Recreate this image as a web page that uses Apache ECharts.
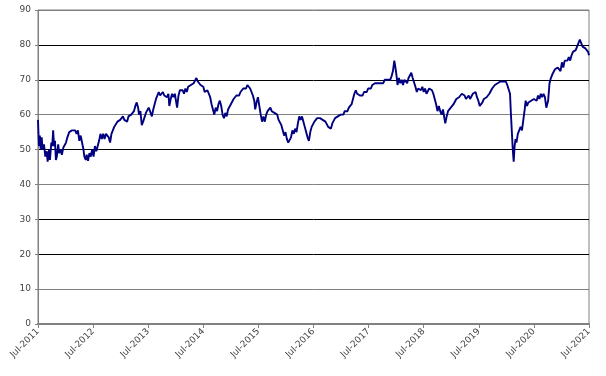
<!DOCTYPE html>
<html>
<head>
<meta charset="utf-8">
<script src="https://cdn.jsdelivr.net/npm/echarts@6/dist/echarts.min.js"></script>
<style>
html,body{margin:0;padding:0;background:#fff;}
#chart{width:606px;height:376px;}
</style>
</head>
<body>
<div id="chart"></div>
<script>
// x positions: months since Jul-2011
var months = [0,0.2,0.4,0.6,0.8,1.0,1.3,1.6,1.9,2.1,2.4,2.6,2.9,3.1,3.3,3.5,3.7,3.9,4.1,4.4,4.6,4.9,5.2,5.5,5.8,6.1,6.4,6.8,7.1,7.4,7.8,8.1,8.4,8.7,9.0,9.3,9.6,9.9,10.1,10.4,10.6,10.9,11.2,11.5,11.8,12.1,12.4,12.7,13.0,13.3,13.6,13.9,14.2,14.5,14.8,15.1,15.4,15.7,16.0,16.3,16.6,16.9,17.3,17.6,17.9,18.2,18.5,18.8,19.1,19.4,19.7,20.0,20.3,20.6,20.9,21.2,21.5,21.8,22.0,22.3,22.6,22.9,23.2,23.5,23.8,24.1,24.4,24.8,25.1,25.4,25.7,26.0,26.3,26.6,26.9,27.2,27.5,27.8,28.1,28.4,28.6,28.9,29.2,29.5,29.8,30.1,30.3,30.6,30.9,31.2,31.5,31.8,32.1,32.4,32.7,33.0,33.3,33.6,33.9,34.2,34.5,34.8,35.1,35.4,35.7,36.0,36.3,36.6,36.9,37.2,37.5,37.8,38.1,38.4,38.7,39.0,39.3,39.6,39.9,40.2,40.5,40.8,41.1,41.4,41.7,42.0,42.3,42.6,42.9,43.2,43.5,43.8,44.1,44.4,44.7,45.0,45.3,45.6,45.9,46.2,46.5,46.8,47.1,47.3,47.6,47.9,48.2,48.5,48.8,49.1,49.4,49.7,50.0,50.3,50.6,50.9,51.2,51.5,51.8,52.1,52.4,52.7,53.0,53.3,53.6,53.9,54.2,54.5,54.8,55.1,55.4,55.7,56.0,56.3,56.6,56.9,57.2,57.5,57.8,58.1,58.4,58.7,59.0,59.3,59.6,59.9,60.2,60.5,60.8,61.1,61.4,61.7,62.0,62.3,62.6,62.9,63.2,63.5,63.8,64.1,64.4,64.7,65.0,65.3,65.6,65.9,66.2,66.5,66.8,67.1,67.4,67.7,68.0,68.3,68.6,68.9,69.2,69.5,69.8,70.1,70.4,70.7,71.0,71.3,71.6,71.9,72.2,72.5,72.8,73.1,73.4,73.7,74.0,74.3,74.6,74.9,75.2,75.5,75.8,76.1,76.4,76.7,77.0,77.3,77.6,77.9,78.1,78.3,78.6,78.9,79.2,79.5,79.8,80.1,80.4,80.7,81.0,81.3,81.6,81.9,82.2,82.5,82.8,83.1,83.4,83.7,84.0,84.3,84.6,84.9,85.2,85.5,85.8,86.1,86.4,86.7,87.0,87.3,87.6,87.9,88.2,88.5,88.7,89.0,89.3,89.6,89.9,90.2,90.5,90.8,91.1,91.4,91.7,92.0,92.3,92.6,92.9,93.2,93.5,93.8,94.1,94.4,94.7,95.0,95.3,95.6,95.9,96.2,96.5,96.8,97.1,97.4,97.7,98.0,98.3,98.6,98.9,99.2,99.5,99.8,100.1,100.4,100.7,101.0,101.3,101.6,101.9,102.2,102.5,102.8,103.0,103.2,103.4,103.6,103.8,104.0,104.2,104.5,104.8,105.1,105.4,105.7,106.0,106.2,106.5,106.8,107.1,107.4,107.7,108.0,108.3,108.6,108.9,109.2,109.5,109.8,110.1,110.4,110.7,110.9,111.1,111.4,111.7,112.0,112.3,112.6,112.9,113.2,113.5,113.8,114.1,114.4,114.7,115.0,115.3,115.6,115.9,116.2,116.5,116.8,117.1,117.4,117.7,118.0,118.3,118.6,118.9,119.2,119.5,119.8,120.0];

var values = [58.5,51,54,50,53.5,50,51.5,48,49.5,46.5,50,47,52,51,55.5,51,52.5,47,48,51.5,49,50,48.5,50.5,50,52,53.5,55,54.5,55.5,55,55.5,54.5,55.5,52.5,54,52,50,48,47,48.5,46.8,49,48,50,48,51,49.5,51,52.5,54.5,53,54.5,53,54.5,54,53.5,52,54.5,55.5,56.5,57,58,58,58.5,59,59.5,58.5,59,58,59.5,59,60,59.5,61,62.5,63.5,62,60,61,57,58,58.5,60.5,61,62,61,59.5,61.5,63,64.5,64,66.5,65.5,66,66.5,65.5,66,65,66,62.5,64.5,66,65,66,63.5,62,65.5,67,66.5,67,66,67.5,66.5,68,67.5,68.5,68,69,69.5,70.5,69.5,70,68.5,69,68,66.5,66,67,66,65,63,61.5,60,62,61,63,64,62.5,60,59,60.5,59.5,61.5,62,63,62.5,64.5,64,65.5,66,65.5,66.5,66,67.5,68,67.5,68.5,68,67.5,66.5,65.5,64,61.5,63.5,65,62.5,60,58,59.5,58,60,61,61.5,62,61,61.5,60.5,61,60,58.5,58,57,55.5,54,55,53,52,51.5,53.5,55.5,54.5,56,55,57.5,59.5,58.5,59.5,58,56.5,55,53.5,52.5,55,56.5,57,58,58.5,59,59.5,59,59.5,58.5,59,58,57.5,56.5,57,56,57.5,58,59,58.5,59.5,59,60,60.5,60,61,61.5,61,62,62.5,63,64.5,66,67,66,66.5,65.5,66,65.5,66.5,67,66.5,67.5,67,67.5,68.5,68,69,68.5,69,69.5,69,69.5,69,70,69.5,70,70.5,70,71,72.5,75.5,73,71,68.5,70.5,69,70,68.5,70,69.5,69,70.5,71,72,70.5,70,68,66.5,67.5,68,67,68,66.5,67.5,66,65.5,67.5,68,67,66,64.5,63,61,62.5,61,60,61.5,59,57.5,59.5,61,61.5,62,62.5,63,63.5,64.5,64,65,65.5,66,66.5,65.5,64.5,64,65.5,64.5,65,66,65.5,66.5,65,64,62.5,62,63.5,64.5,64,65,64.5,66,66.5,67.5,67,68.5,68,69,68.5,69.5,69,69.5,70,69.5,68.5,69,66,60,55,50,46.5,51,53,52,54.5,55,56.5,55.5,58.5,61.5,64,62.5,63.5,63,64,63.5,64.5,65,64,65.5,64.5,66,65,66,65,62,61.5,64,69,70.5,71.5,72,73,72.5,73.5,74,72.5,75,73.5,75.5,76,75.5,76.5,75.5,77,78,77.5,78.5,79.5,80.5,81.5,80.5,79.5,80,79,79.5,78,77];

var xTickLabels = ['Jul-2011','Jul-2012','Jul-2013','Jul-2014','Jul-2015','Jul-2016','Jul-2017','Jul-2018','Jul-2019','Jul-2020','Jul-2021'];
var yMin = 0, yMax = 90, yStep = 10;

var data = months.map(function (m, i) { return [m, values[i]]; });

var chart = echarts.init(document.getElementById('chart'), null, {renderer: 'canvas'});
var labelFont = {color: '#444', fontFamily: 'DejaVu Sans', fontSize: 9};
chart.setOption({
  animation: false,
  backgroundColor: '#fff',
  grid: {left: 38, right: 17, top: 10, bottom: 52, show: true, borderColor: '#808080', borderWidth: 1},
  xAxis: {
    type: 'value', min: 0, max: 120, interval: 12,
    axisLine: {show: true, lineStyle: {color: '#808080', width: 2}},
    axisTick: {show: true, length: 4, lineStyle: {color: '#808080'}},
    splitLine: {show: false},
    axisLabel: Object.assign({
      rotate: 45, margin: 6,
      formatter: function (v) { return xTickLabels[Math.round(v / 12)] || ''; }
    }, labelFont)
  },
  yAxis: {
    type: 'value', min: yMin, max: yMax, interval: yStep,
    axisLine: {show: true, lineStyle: {color: '#808080', width: 1}},
    axisTick: {show: true, length: 3, lineStyle: {color: '#808080'}},
    splitLine: {show: true, lineStyle: {width: 1, color: ['#808080','#808080','#000','#000','#808080','#000','#808080','#000','#000','#808080']}},
    axisLabel: Object.assign({margin: 7}, labelFont)
  },
  series: [{
    type: 'line', data: data, showSymbol: false, symbol: 'none',
    lineStyle: {color: '#000080', width: 1.9}
  }]
});
</script>
</body>
</html>
